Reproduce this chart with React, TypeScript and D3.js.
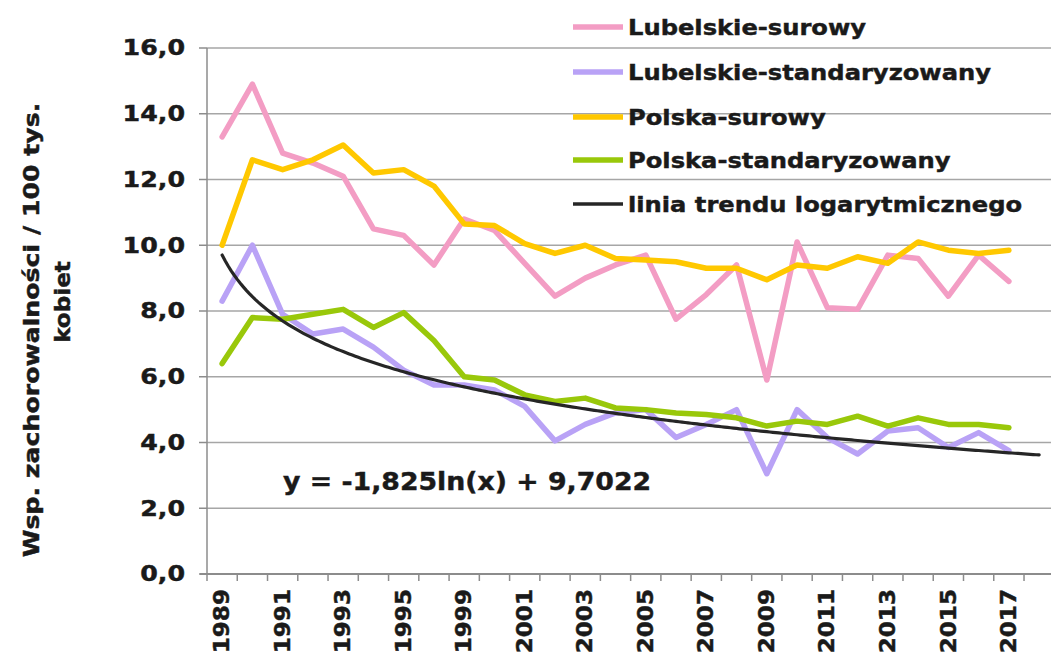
import React from 'react';
import * as d3 from 'd3';

const categories = ['1989','1990','1991','1992','1993','1994','1995','1997','1999','2000','2001','2002','2003','2004','2005','2006','2007','2008','2009','2010','2011','2012','2013','2014','2015','2016','2017','2018'];

const lubelskieSurowy = [13.3, 14.9, 12.8, 12.5, 12.1, 10.5, 10.3, 9.4, 10.8, 10.45, 9.45, 8.45, 9.0, 9.4, 9.7, 7.75, 8.5, 9.4, 5.9, 10.1, 8.1, 8.05, 9.7, 9.6, 8.45, 9.7, 8.9];
const lubelskieStand = [8.3, 10.0, 7.9, 7.3, 7.45, 6.9, 6.2, 5.75, 5.75, 5.6, 5.1, 4.05, 4.55, 4.9, 5.0, 4.15, 4.55, 5.0, 3.05, 5.0, 4.15, 3.65, 4.35, 4.45, 3.85, 4.3, 3.75];
const polskaSurowy = [10.0, 12.6, 12.3, 12.6, 13.05, 12.2, 12.3, 11.8, 10.65, 10.6, 10.05, 9.75, 10.0, 9.6, 9.55, 9.5, 9.3, 9.3, 8.95, 9.4, 9.3, 9.65, 9.45, 10.1, 9.85, 9.75, 9.85];
const polskaStand = [6.4, 7.8, 7.75, 7.9, 8.05, 7.5, 7.95, 7.1, 6.0, 5.9, 5.45, 5.25, 5.35, 5.05, 5.0, 4.9, 4.85, 4.75, 4.5, 4.65, 4.55, 4.8, 4.5, 4.75, 4.55, 4.55, 4.45];

const trendA = -1.825;
const trendB = 9.7022;
const trendLabel = 'y = -1,825ln(x) + 9,7022';

const yTicks = [0, 2, 4, 6, 8, 10, 12, 14, 16];
const yTickLabels = ['0,0', '2,0', '4,0', '6,0', '8,0', '10,0', '12,0', '14,0', '16,0'];

const series = [
  { name: 'Lubelskie-surowy', values: lubelskieSurowy, color: '#F39DC4' },
  { name: 'Lubelskie-standaryzowany', values: lubelskieStand, color: '#B9A2F6' },
  { name: 'Polska-surowy', values: polskaSurowy, color: '#FFC800' },
  { name: 'Polska-standaryzowany', values: polskaStand, color: '#99C80A' },
];
const trendName = 'linia trendu logarytmicznego';
const trendColor = '#262626';

const FONT = '"DejaVu Sans", Verdana, sans-serif';
const TXT = { fontWeight: 'bold' as const, fill: '#1a1a1a', stroke: '#1a1a1a', strokeWidth: 0.45 };

export default function App() {
  const W = 1051, H = 664;
  const x = d3.scaleBand().domain(categories).range([207, 207 + 28 * 30.26]).padding(0);
  const bw = x.bandwidth();
  const cx = (i: number) => (x(categories[i]) as number) + bw / 2;
  const y = d3.scaleLinear().domain([0, 16]).range([574, 48]);

  const line = d3.line<number>().x((_, i) => cx(i)).y((d) => y(d));

  const trendPts: [number, number][] = [];
  for (let t = 1; t <= 28.0001; t += 0.1) {
    trendPts.push([cx(0) + (t - 1) * bw, y(trendA * Math.log(t) + trendB)]);
  }
  const trendPath = d3.line().curve(d3.curveLinear)(trendPts) as string;

  const legendRows = [
    ...series.map((s) => ({ name: s.name, color: s.color, w: 5.5 })),
    { name: trendName, color: trendColor, w: 3.5 },
  ];
  const legendY = [27, 72, 117, 160, 204];

  return (
    <svg width={W} height={H} style={{ position: 'absolute', left: 0, top: 0, background: '#fff' }} fontFamily={FONT}>
      <rect x={0} y={0} width={W} height={H} fill="#fff" />
      {yTicks.filter((t) => t > 0).map((t) => (
        <line key={t} x1={207} x2={W} y1={y(t)} y2={y(t)} stroke="#a6a6a6" strokeWidth={1.3} />
      ))}
      <line x1={207} x2={207} y1={y(16)} y2={y(0)} stroke="#8c8c8c" strokeWidth={1.5} />
      {yTicks.map((t) => (
        <line key={'yt' + t} x1={199} x2={207} y1={y(t)} y2={y(t)} stroke="#8c8c8c" strokeWidth={1.5} />
      ))}
      {yTicks.map((t, i) => (
        <text key={'yl' + t} transform={`translate(185,${y(t)}) scale(1.15,1)`} textAnchor="end" dominantBaseline="central" fontSize={22} {...TXT}>
          {yTickLabels[i]}
        </text>
      ))}
      <line x1={200} x2={W} y1={y(0)} y2={y(0)} stroke="#8c8c8c" strokeWidth={2.2} />
      {categories.map((c) => (
        <line key={'xt' + c} x1={x(c) as number} x2={x(c) as number} y1={y(0)} y2={y(0) + 7} stroke="#8c8c8c" strokeWidth={1.5} />
      ))}
      {categories.map((c, i) => (i % 2 === 0 && i < 27 ? (
        <text key={'xl' + c} transform={`translate(${cx(i)},589) rotate(-90) scale(1.1,1)`} textAnchor="end" dominantBaseline="central" fontSize={21} {...TXT}>
          {c}
        </text>
      ) : null))}
      <text transform="translate(31,330) rotate(-90) scale(1.2,1)" textAnchor="middle" dominantBaseline="central" fontSize={21} {...TXT}>
        Wsp. zachorowalności / 100 tys.
      </text>
      <text transform="translate(63,302) rotate(-90) scale(1.1,1)" textAnchor="middle" dominantBaseline="central" fontSize={21} {...TXT}>
        kobiet
      </text>
      {series.map((s) => (
        <path key={s.name} d={line(s.values) as string} fill="none" stroke={s.color} strokeWidth={5.5} strokeLinejoin="round" strokeLinecap="round" />
      ))}
      <path d={trendPath} fill="none" stroke={trendColor} strokeWidth={3.2} strokeLinecap="round" />
      <text transform="translate(283,481) scale(1.07,1)" dominantBaseline="central" fontSize={25} {...TXT}>
        {trendLabel}
      </text>
      {legendRows.map((r, i) => (
        <g key={r.name}>
          <line x1={573} x2={623} y1={legendY[i]} y2={legendY[i]} stroke={r.color} strokeWidth={r.w} />
          <text transform={`translate(628,${legendY[i]}) scale(1.1,1)`} dominantBaseline="central" fontSize={22} {...TXT}>
            {r.name}
          </text>
        </g>
      ))}
    </svg>
  );
}
